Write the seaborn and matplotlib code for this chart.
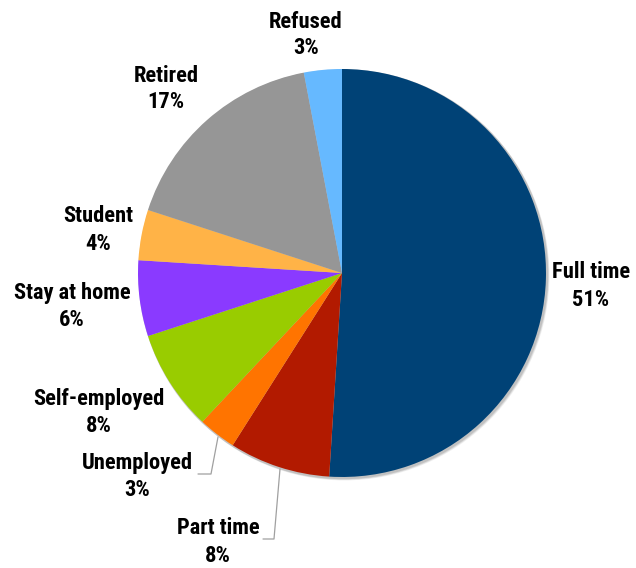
import matplotlib
matplotlib.use("Agg")
import matplotlib.pyplot as plt
import matplotlib.font_manager as fm
import seaborn as sns
from matplotlib.patches import Circle

categories = ["Full time", "Part time", "Unemployed", "Self-employed",
              "Stay at home", "Student", "Retired", "Refused"]
shares = [51, 8, 3, 8, 6, 4, 17, 3]
colors = ["#004276", "#B21A00", "#FF7400", "#99CC00",
          "#8A3AFF", "#FFB347", "#969696", "#66B9FF"]

sns.set_theme(style="white")


def has_bold(name):
    for f in fm.fontManager.ttflist:
        if f.name == name:
            w = f.weight
            if isinstance(w, str):
                if "bold" in w.lower() or w in ("heavy", "black"):
                    return True
            elif w >= 700:
                return True
    return False


preferred = ["Nimbus Sans Narrow", "Liberation Sans Narrow", "Arial Narrow",
             "Archivo Narrow", "Roboto Condensed", "IBM Plex Sans Condensed",
             "PT Sans Narrow", "Arimo", "Liberation Sans"]
family = [f for f in preferred if has_bold(f)][:1] + ["DejaVu Sans"]
plt.rcParams["font.family"] = family

W, H = 636, 568
fig = plt.figure(figsize=(W / 100, H / 100), dpi=100)
ax = fig.add_axes([0, 0, 1, 1])


def py(y):
    """Convert a top-down pixel row into the axes' bottom-up y."""
    return H - y


cx, cy, r = 342, py(273), 204

# soft drop shadow behind the pie, offset to the lower right
for k, a in [(4, 0.15), (3, 0.22), (2, 0.32)]:
    ax.add_patch(Circle((cx + k * 0.6, cy - k * 0.6), r + 1, color="#8f8f8f",
                        alpha=a, lw=0, zorder=1))

palette = sns.color_palette(colors)
ax.pie(shares, colors=palette, startangle=90, counterclock=False,
       center=(cx, cy), radius=r, frame=True,
       wedgeprops=dict(linewidth=0, zorder=2))
ax.set_xlim(0, W)
ax.set_ylim(0, H)
ax.set_aspect("equal")
ax.axis("off")

# label anchor: (x centre, y centre of the name line) in pixel rows
label_pos = {
    "Full time": (591, 270),
    "Part time": (218, 526),
    "Unemployed": (137, 461),
    "Self-employed": (99, 396),
    "Stay at home": (72, 291),
    "Student": (98, 214),
    "Retired": (166, 73),
    "Refused": (306, 19),
}
for name, val in zip(categories, shares):
    x, y = label_pos[name]
    ax.text(x, py(y), name, ha="center", va="center_baseline",
            fontsize=16.2, fontweight="bold", color="black", zorder=5)
    ax.text(x, py(y + 27), f"{val}%", ha="center", va="center_baseline",
            fontsize=16.2, fontweight="bold", color="black", zorder=5)

# leader lines for the narrow lower slices
ax.plot([218, 211, 198], [py(437), py(474), py(474)], color="#a0a0a0",
        lw=0.9, zorder=4)
ax.plot([280, 274, 263], [py(469), py(539), py(539)], color="#a0a0a0",
        lw=0.9, zorder=4)

fig.savefig("out.png", dpi=100, facecolor="white")
